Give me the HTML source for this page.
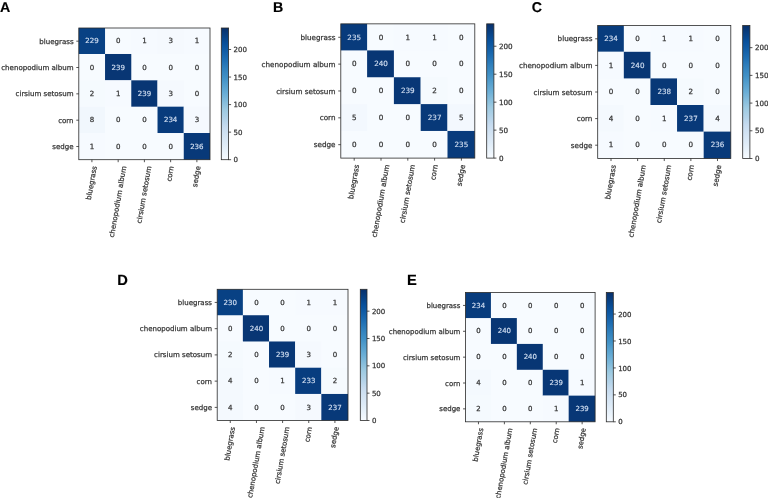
<!DOCTYPE html>
<html lang="en">
<head>
<meta charset="utf-8">
<title>Confusion matrices A-E</title>
<style>
html,body{margin:0;padding:0;background:#ffffff;}
body{width:768px;height:498px;overflow:hidden;}
svg{display:block;}
svg text{text-rendering:geometricPrecision;font-family:"DejaVu Sans","Liberation Sans",sans-serif;fill:#363636;stroke:#363636;stroke-width:0.25px;}
svg .pl{font-family:"Liberation Sans",Arial,Helvetica,sans-serif;font-weight:bold;fill:#000000;stroke:#000000;stroke-width:0.15px;}
svg .ct text{text-anchor:middle;}
svg .ct text.w{fill:#cddbef;stroke:#cddbef;stroke-width:0.2px;}
svg .yt text{text-anchor:end;}
svg .xt text{text-anchor:middle;}
svg .cb text{text-anchor:start;}
svg line{stroke:#2a2a2a;stroke-width:0.8;}
svg .fr{fill:none;stroke:#2a2a2a;stroke-width:0.8;}
</style>
</head>
<body>
<svg width="768" height="498" viewBox="0 0 768 498" font-size="14.2">
<defs>
<linearGradient id="bl" x1="0" y1="0" x2="0" y2="1">
<stop offset="0" stop-color="#08306b"/>
<stop offset="0.06" stop-color="#084082"/>
<stop offset="0.12" stop-color="#08509b"/>
<stop offset="0.19" stop-color="#1460a8"/>
<stop offset="0.25" stop-color="#2070b4"/>
<stop offset="0.31" stop-color="#3181bd"/>
<stop offset="0.38" stop-color="#4191c6"/>
<stop offset="0.44" stop-color="#56a0ce"/>
<stop offset="0.5" stop-color="#6aaed6"/>
<stop offset="0.56" stop-color="#84bcdb"/>
<stop offset="0.62" stop-color="#9dcae1"/>
<stop offset="0.69" stop-color="#b2d2e8"/>
<stop offset="0.75" stop-color="#c6dbef"/>
<stop offset="0.81" stop-color="#d2e3f3"/>
<stop offset="0.88" stop-color="#deebf7"/>
<stop offset="0.94" stop-color="#eaf3fb"/>
<stop offset="1" stop-color="#f7fbff"/>
</linearGradient>
</defs>
<rect x="0" y="0" width="768" height="498" fill="#ffffff"/>
<g class="panel">
<text class="pl" x="0" y="12.2">A</text>
<rect x="78.8" y="28" width="131.2" height="131.7" fill="#f7fbff"/>
<rect x="78.8" y="28" width="26.24" height="25.99" fill="#084184"/>
<rect x="131.28" y="28" width="26.24" height="25.99" fill="#f6faff"/>
<rect x="157.52" y="28" width="26.24" height="25.99" fill="#f5f9fe"/>
<rect x="183.76" y="28" width="26.24" height="25.99" fill="#f6faff"/>
<rect x="105.04" y="53.99" width="26.24" height="26.34" fill="#083674"/>
<rect x="78.8" y="80.33" width="26.24" height="26.34" fill="#f5fafe"/>
<rect x="105.04" y="80.33" width="26.24" height="26.34" fill="#f6faff"/>
<rect x="131.28" y="80.33" width="26.24" height="26.34" fill="#083674"/>
<rect x="157.52" y="80.33" width="26.24" height="26.34" fill="#f5f9fe"/>
<rect x="78.8" y="106.67" width="26.24" height="26.34" fill="#f1f7fd"/>
<rect x="157.52" y="106.67" width="26.24" height="26.34" fill="#083b7c"/>
<rect x="183.76" y="106.67" width="26.24" height="26.34" fill="#f5f9fe"/>
<rect x="78.8" y="133.01" width="26.24" height="26.69" fill="#f6faff"/>
<rect x="183.76" y="133.01" width="26.24" height="26.69" fill="#083979"/>
<rect class="fr" x="78.8" y="28" width="131.2" height="131.7"/>
<g class="ct" font-size="7.06">
<text x="91.92" y="43.4" class="w">229</text>
<text x="118.16" y="43.4">0</text>
<text x="144.4" y="43.4">1</text>
<text x="170.64" y="43.4">3</text>
<text x="196.88" y="43.4">1</text>
<text x="91.92" y="69.74">0</text>
<text x="118.16" y="69.74" class="w">239</text>
<text x="144.4" y="69.74">0</text>
<text x="170.64" y="69.74">0</text>
<text x="196.88" y="69.74">0</text>
<text x="91.92" y="96.08">2</text>
<text x="118.16" y="96.08">1</text>
<text x="144.4" y="96.08" class="w">239</text>
<text x="170.64" y="96.08">3</text>
<text x="196.88" y="96.08">0</text>
<text x="91.92" y="122.42">8</text>
<text x="118.16" y="122.42">0</text>
<text x="144.4" y="122.42">0</text>
<text x="170.64" y="122.42" class="w">234</text>
<text x="196.88" y="122.42">3</text>
<text x="91.92" y="148.76">1</text>
<text x="118.16" y="148.76">0</text>
<text x="144.4" y="148.76">0</text>
<text x="170.64" y="148.76">0</text>
<text x="196.88" y="148.76" class="w">236</text>
</g>
<g class="yt" font-size="7.06">
<line x1="76.3" y1="41.17" x2="78.8" y2="41.17"/>
<text x="73.59" y="43.75">bluegrass</text>
<line x1="76.3" y1="67.51" x2="78.8" y2="67.51"/>
<text x="73.59" y="70.09">chenopodium album</text>
<line x1="76.3" y1="93.85" x2="78.8" y2="93.85"/>
<text x="73.59" y="96.43">cirsium setosum</text>
<line x1="76.3" y1="120.19" x2="78.8" y2="120.19"/>
<text x="73.59" y="122.77">corn</text>
<line x1="76.3" y1="146.53" x2="78.8" y2="146.53"/>
<text x="73.59" y="149.11">sedge</text>
</g>
<g class="xt" font-size="7.06">
<line x1="91.92" y1="159.7" x2="91.92" y2="162.2"/>
<text transform="translate(91.72 183.02) rotate(-80)" x="0" y="2.12">bluegrass</text>
<line x1="118.16" y1="159.7" x2="118.16" y2="162.2"/>
<text transform="translate(117.96 201.8) rotate(-80)" x="0" y="2.12">chenopodium album</text>
<line x1="144.4" y1="159.7" x2="144.4" y2="162.2"/>
<text transform="translate(144.2 194.74) rotate(-80)" x="0" y="2.12">cirsium setosum</text>
<line x1="170.64" y1="159.7" x2="170.64" y2="162.2"/>
<text transform="translate(170.44 173.73) rotate(-80)" x="0" y="2.12">corn</text>
<line x1="196.88" y1="159.7" x2="196.88" y2="162.2"/>
<text transform="translate(196.68 176.62) rotate(-80)" x="0" y="2.12">sedge</text>
</g>
<rect x="221.3" y="28" width="7.3" height="131.7" fill="url(#bl)"/>
<rect class="fr" x="221.3" y="28" width="7.3" height="131.7"/>
<g class="cb" font-size="7.06">
<line x1="228.6" y1="159.7" x2="231.1" y2="159.7"/>
<text x="233.51" y="162.33">0</text>
<line x1="228.6" y1="132.15" x2="231.1" y2="132.15"/>
<text x="233.51" y="134.77">50</text>
<line x1="228.6" y1="104.6" x2="231.1" y2="104.6"/>
<text x="233.51" y="107.22">100</text>
<line x1="228.6" y1="77.04" x2="231.1" y2="77.04"/>
<text x="233.51" y="79.67">150</text>
<line x1="228.6" y1="49.49" x2="231.1" y2="49.49"/>
<text x="233.51" y="52.12">200</text>
</g>
</g>
<g class="panel">
<text class="pl" x="273" y="12.3">B</text>
<rect x="340.8" y="23.85" width="134" height="134.25" fill="#f7fbff"/>
<rect x="340.8" y="23.85" width="26.3" height="26.55" fill="#083b7c"/>
<rect x="393.9" y="23.85" width="26.8" height="26.55" fill="#f6faff"/>
<rect x="420.7" y="23.85" width="26.8" height="26.55" fill="#f6faff"/>
<rect x="367.1" y="50.4" width="26.8" height="26.85" fill="#083674"/>
<rect x="393.9" y="77.25" width="26.8" height="26.85" fill="#083776"/>
<rect x="420.7" y="77.25" width="26.8" height="26.85" fill="#f5fafe"/>
<rect x="340.8" y="104.1" width="26.3" height="26.85" fill="#f3f8fe"/>
<rect x="420.7" y="104.1" width="26.8" height="26.85" fill="#083979"/>
<rect x="447.5" y="104.1" width="27.3" height="26.85" fill="#f3f8fe"/>
<rect x="447.5" y="130.95" width="27.3" height="27.15" fill="#083b7c"/>
<rect class="fr" x="340.8" y="23.85" width="134" height="134.25"/>
<g class="ct" font-size="7.21">
<text x="354.2" y="39.56" class="w">235</text>
<text x="381" y="39.56">0</text>
<text x="407.8" y="39.56">1</text>
<text x="434.6" y="39.56">1</text>
<text x="461.4" y="39.56">0</text>
<text x="354.2" y="66.41">0</text>
<text x="381" y="66.41" class="w">240</text>
<text x="407.8" y="66.41">0</text>
<text x="434.6" y="66.41">0</text>
<text x="461.4" y="66.41">0</text>
<text x="354.2" y="93.26">0</text>
<text x="381" y="93.26">0</text>
<text x="407.8" y="93.26" class="w">239</text>
<text x="434.6" y="93.26">2</text>
<text x="461.4" y="93.26">0</text>
<text x="354.2" y="120.11">5</text>
<text x="381" y="120.11">0</text>
<text x="407.8" y="120.11">0</text>
<text x="434.6" y="120.11" class="w">237</text>
<text x="461.4" y="120.11">5</text>
<text x="354.2" y="146.96">0</text>
<text x="381" y="146.96">0</text>
<text x="407.8" y="146.96">0</text>
<text x="434.6" y="146.96">0</text>
<text x="461.4" y="146.96" class="w">235</text>
</g>
<g class="yt" font-size="7.21">
<line x1="338.24" y1="37.28" x2="340.8" y2="37.28"/>
<text x="335.48" y="39.91">bluegrass</text>
<line x1="338.24" y1="64.12" x2="340.8" y2="64.12"/>
<text x="335.48" y="66.76">chenopodium album</text>
<line x1="338.24" y1="90.97" x2="340.8" y2="90.97"/>
<text x="335.48" y="93.61">cirsium setosum</text>
<line x1="338.24" y1="117.83" x2="340.8" y2="117.83"/>
<text x="335.48" y="120.46">corn</text>
<line x1="338.24" y1="144.68" x2="340.8" y2="144.68"/>
<text x="335.48" y="147.31">sedge</text>
</g>
<g class="xt" font-size="7.21">
<line x1="354.2" y1="158.1" x2="354.2" y2="160.66"/>
<text transform="translate(354 181.9) rotate(-80)" x="0" y="2.16">bluegrass</text>
<line x1="381" y1="158.1" x2="381" y2="160.66"/>
<text transform="translate(380.8 201.08) rotate(-80)" x="0" y="2.16">chenopodium album</text>
<line x1="407.8" y1="158.1" x2="407.8" y2="160.66"/>
<text transform="translate(407.6 193.87) rotate(-80)" x="0" y="2.16">cirsium setosum</text>
<line x1="434.6" y1="158.1" x2="434.6" y2="160.66"/>
<text transform="translate(434.4 172.41) rotate(-80)" x="0" y="2.16">corn</text>
<line x1="461.4" y1="158.1" x2="461.4" y2="160.66"/>
<text transform="translate(461.2 175.37) rotate(-80)" x="0" y="2.16">sedge</text>
</g>
<rect x="486.7" y="23.85" width="7.2" height="134.25" fill="url(#bl)"/>
<rect class="fr" x="486.7" y="23.85" width="7.2" height="134.25"/>
<g class="cb" font-size="7.21">
<line x1="493.9" y1="158.1" x2="496.46" y2="158.1"/>
<text x="498.91" y="160.78">0</text>
<line x1="493.9" y1="130.13" x2="496.46" y2="130.13"/>
<text x="498.91" y="132.81">50</text>
<line x1="493.9" y1="102.16" x2="496.46" y2="102.16"/>
<text x="498.91" y="104.84">100</text>
<line x1="493.9" y1="74.19" x2="496.46" y2="74.19"/>
<text x="498.91" y="76.88">150</text>
<line x1="493.9" y1="46.22" x2="496.46" y2="46.22"/>
<text x="498.91" y="48.91">200</text>
</g>
</g>
<g class="panel">
<text class="pl" x="531.8" y="12.3">C</text>
<rect x="597.7" y="25.5" width="133.1" height="133" fill="#f7fbff"/>
<rect x="597.7" y="25.5" width="26.12" height="26.3" fill="#083c7d"/>
<rect x="650.44" y="25.5" width="26.62" height="26.3" fill="#f6faff"/>
<rect x="677.06" y="25.5" width="26.62" height="26.3" fill="#f6faff"/>
<rect x="597.7" y="51.8" width="26.12" height="26.6" fill="#f6faff"/>
<rect x="623.82" y="51.8" width="26.62" height="26.6" fill="#083674"/>
<rect x="650.44" y="78.4" width="26.62" height="26.6" fill="#083877"/>
<rect x="677.06" y="78.4" width="26.62" height="26.6" fill="#f5fafe"/>
<rect x="597.7" y="105" width="26.12" height="26.6" fill="#f4f9fe"/>
<rect x="650.44" y="105" width="26.62" height="26.6" fill="#f6faff"/>
<rect x="677.06" y="105" width="26.62" height="26.6" fill="#083979"/>
<rect x="703.68" y="105" width="27.12" height="26.6" fill="#f4f9fe"/>
<rect x="597.7" y="131.6" width="26.12" height="26.9" fill="#f6faff"/>
<rect x="703.68" y="131.6" width="27.12" height="26.9" fill="#083a7a"/>
<rect class="fr" x="597.7" y="25.5" width="133.1" height="133"/>
<g class="ct" font-size="7.16">
<text x="611.01" y="41.06" class="w">234</text>
<text x="637.63" y="41.06">0</text>
<text x="664.25" y="41.06">1</text>
<text x="690.87" y="41.06">1</text>
<text x="717.49" y="41.06">0</text>
<text x="611.01" y="67.66">1</text>
<text x="637.63" y="67.66" class="w">240</text>
<text x="664.25" y="67.66">0</text>
<text x="690.87" y="67.66">0</text>
<text x="717.49" y="67.66">0</text>
<text x="611.01" y="94.26">0</text>
<text x="637.63" y="94.26">0</text>
<text x="664.25" y="94.26" class="w">238</text>
<text x="690.87" y="94.26">2</text>
<text x="717.49" y="94.26">0</text>
<text x="611.01" y="120.86">4</text>
<text x="637.63" y="120.86">0</text>
<text x="664.25" y="120.86">1</text>
<text x="690.87" y="120.86" class="w">237</text>
<text x="717.49" y="120.86">4</text>
<text x="611.01" y="147.46">1</text>
<text x="637.63" y="147.46">0</text>
<text x="664.25" y="147.46">0</text>
<text x="690.87" y="147.46">0</text>
<text x="717.49" y="147.46" class="w">236</text>
</g>
<g class="yt" font-size="7.16">
<line x1="595.16" y1="38.8" x2="597.7" y2="38.8"/>
<text x="592.42" y="41.41">bluegrass</text>
<line x1="595.16" y1="65.4" x2="597.7" y2="65.4"/>
<text x="592.42" y="68.01">chenopodium album</text>
<line x1="595.16" y1="92" x2="597.7" y2="92"/>
<text x="592.42" y="94.61">cirsium setosum</text>
<line x1="595.16" y1="118.6" x2="597.7" y2="118.6"/>
<text x="592.42" y="121.21">corn</text>
<line x1="595.16" y1="145.2" x2="597.7" y2="145.2"/>
<text x="592.42" y="147.81">sedge</text>
</g>
<g class="xt" font-size="7.16">
<line x1="611.01" y1="158.5" x2="611.01" y2="161.04"/>
<text transform="translate(610.81 182.15) rotate(-80)" x="0" y="2.15">bluegrass</text>
<line x1="637.63" y1="158.5" x2="637.63" y2="161.04"/>
<text transform="translate(637.43 201.2) rotate(-80)" x="0" y="2.15">chenopodium album</text>
<line x1="664.25" y1="158.5" x2="664.25" y2="161.04"/>
<text transform="translate(664.05 194.04) rotate(-80)" x="0" y="2.15">cirsium setosum</text>
<line x1="690.87" y1="158.5" x2="690.87" y2="161.04"/>
<text transform="translate(690.67 172.72) rotate(-80)" x="0" y="2.15">corn</text>
<line x1="717.49" y1="158.5" x2="717.49" y2="161.04"/>
<text transform="translate(717.29 175.66) rotate(-80)" x="0" y="2.15">sedge</text>
</g>
<rect x="742.7" y="25.5" width="7.2" height="133" fill="url(#bl)"/>
<rect class="fr" x="742.7" y="25.5" width="7.2" height="133"/>
<g class="cb" font-size="7.16">
<line x1="749.9" y1="158.5" x2="752.44" y2="158.5"/>
<text x="754.88" y="161.16">0</text>
<line x1="749.9" y1="130.79" x2="752.44" y2="130.79"/>
<text x="754.88" y="133.46">50</text>
<line x1="749.9" y1="103.08" x2="752.44" y2="103.08"/>
<text x="754.88" y="105.75">100</text>
<line x1="749.9" y1="75.38" x2="752.44" y2="75.38"/>
<text x="754.88" y="78.04">150</text>
<line x1="749.9" y1="47.67" x2="752.44" y2="47.67"/>
<text x="754.88" y="50.33">200</text>
</g>
</g>
<g class="panel">
<text class="pl" x="117.2" y="285" font-size="14.7">D</text>
<rect x="217.2" y="289.3" width="130.8" height="131.2" fill="#f7fbff"/>
<rect x="217.2" y="289.3" width="25.66" height="25.94" fill="#084184"/>
<rect x="295.18" y="289.3" width="26.16" height="25.94" fill="#f6faff"/>
<rect x="321.34" y="289.3" width="26.66" height="25.94" fill="#f6faff"/>
<rect x="242.86" y="315.24" width="26.16" height="26.24" fill="#083674"/>
<rect x="217.2" y="341.48" width="25.66" height="26.24" fill="#f5fafe"/>
<rect x="269.02" y="341.48" width="26.16" height="26.24" fill="#083776"/>
<rect x="295.18" y="341.48" width="26.16" height="26.24" fill="#f5f9fe"/>
<rect x="217.2" y="367.72" width="25.66" height="26.24" fill="#f4f9fe"/>
<rect x="269.02" y="367.72" width="26.16" height="26.24" fill="#f6faff"/>
<rect x="295.18" y="367.72" width="26.16" height="26.24" fill="#083d7f"/>
<rect x="321.34" y="367.72" width="26.66" height="26.24" fill="#f5fafe"/>
<rect x="217.2" y="393.96" width="25.66" height="26.54" fill="#f4f9fe"/>
<rect x="295.18" y="393.96" width="26.16" height="26.54" fill="#f5f9fe"/>
<rect x="321.34" y="393.96" width="26.66" height="26.54" fill="#083979"/>
<rect class="fr" x="217.2" y="289.3" width="130.8" height="131.2"/>
<g class="ct" font-size="7.04">
<text x="230.28" y="304.64" class="w">230</text>
<text x="256.44" y="304.64">0</text>
<text x="282.6" y="304.64">0</text>
<text x="308.76" y="304.64">1</text>
<text x="334.92" y="304.64">1</text>
<text x="230.28" y="330.88">0</text>
<text x="256.44" y="330.88" class="w">240</text>
<text x="282.6" y="330.88">0</text>
<text x="308.76" y="330.88">0</text>
<text x="334.92" y="330.88">0</text>
<text x="230.28" y="357.12">2</text>
<text x="256.44" y="357.12">0</text>
<text x="282.6" y="357.12" class="w">239</text>
<text x="308.76" y="357.12">3</text>
<text x="334.92" y="357.12">0</text>
<text x="230.28" y="383.36">4</text>
<text x="256.44" y="383.36">0</text>
<text x="282.6" y="383.36">1</text>
<text x="308.76" y="383.36" class="w">233</text>
<text x="334.92" y="383.36">2</text>
<text x="230.28" y="409.6">4</text>
<text x="256.44" y="409.6">0</text>
<text x="282.6" y="409.6">0</text>
<text x="308.76" y="409.6">3</text>
<text x="334.92" y="409.6" class="w">237</text>
</g>
<g class="yt" font-size="7.04">
<line x1="214.7" y1="302.42" x2="217.2" y2="302.42"/>
<text x="212.01" y="304.99">bluegrass</text>
<line x1="214.7" y1="328.66" x2="217.2" y2="328.66"/>
<text x="212.01" y="331.23">chenopodium album</text>
<line x1="214.7" y1="354.9" x2="217.2" y2="354.9"/>
<text x="212.01" y="357.47">cirsium setosum</text>
<line x1="214.7" y1="381.14" x2="217.2" y2="381.14"/>
<text x="212.01" y="383.71">corn</text>
<line x1="214.7" y1="407.38" x2="217.2" y2="407.38"/>
<text x="212.01" y="409.95">sedge</text>
</g>
<g class="xt" font-size="7.04">
<line x1="230.28" y1="420.5" x2="230.28" y2="423"/>
<text transform="translate(230.08 443.75) rotate(-80)" x="0" y="2.11">bluegrass</text>
<line x1="256.44" y1="420.5" x2="256.44" y2="423"/>
<text transform="translate(256.24 462.47) rotate(-80)" x="0" y="2.11">chenopodium album</text>
<line x1="282.6" y1="420.5" x2="282.6" y2="423"/>
<text transform="translate(282.4 455.43) rotate(-80)" x="0" y="2.11">cirsium setosum</text>
<line x1="308.76" y1="420.5" x2="308.76" y2="423"/>
<text transform="translate(308.56 434.49) rotate(-80)" x="0" y="2.11">corn</text>
<line x1="334.92" y1="420.5" x2="334.92" y2="423"/>
<text transform="translate(334.72 437.37) rotate(-80)" x="0" y="2.11">sedge</text>
</g>
<rect x="360.3" y="289.3" width="6.7" height="131.2" fill="url(#bl)"/>
<rect class="fr" x="360.3" y="289.3" width="6.7" height="131.2"/>
<g class="cb" font-size="7.04">
<line x1="367" y1="420.5" x2="369.5" y2="420.5"/>
<text x="371.89" y="423.12">0</text>
<line x1="367" y1="393.17" x2="369.5" y2="393.17"/>
<text x="371.89" y="395.79">50</text>
<line x1="367" y1="365.83" x2="369.5" y2="365.83"/>
<text x="371.89" y="368.45">100</text>
<line x1="367" y1="338.5" x2="369.5" y2="338.5"/>
<text x="371.89" y="341.12">150</text>
<line x1="367" y1="311.17" x2="369.5" y2="311.17"/>
<text x="371.89" y="313.79">200</text>
</g>
</g>
<g class="panel">
<text class="pl" x="407.1" y="285" font-size="14.7">E</text>
<rect x="465.5" y="292.5" width="129.6" height="129.3" fill="#f7fbff"/>
<rect x="465.5" y="292.5" width="25.42" height="25.56" fill="#083c7d"/>
<rect x="490.92" y="318.06" width="25.92" height="25.86" fill="#083674"/>
<rect x="516.84" y="343.92" width="25.92" height="25.86" fill="#083674"/>
<rect x="465.5" y="369.78" width="25.42" height="25.86" fill="#f4f9fe"/>
<rect x="542.76" y="369.78" width="25.92" height="25.86" fill="#083776"/>
<rect x="568.68" y="369.78" width="26.42" height="25.86" fill="#f6faff"/>
<rect x="465.5" y="395.64" width="25.42" height="26.16" fill="#f5fafe"/>
<rect x="542.76" y="395.64" width="25.92" height="26.16" fill="#f6faff"/>
<rect x="568.68" y="395.64" width="26.42" height="26.16" fill="#083776"/>
<rect class="fr" x="465.5" y="292.5" width="129.6" height="129.3"/>
<g class="ct" font-size="6.97">
<text x="478.46" y="307.63" class="w">234</text>
<text x="504.38" y="307.63">0</text>
<text x="530.3" y="307.63">0</text>
<text x="556.22" y="307.63">0</text>
<text x="582.14" y="307.63">0</text>
<text x="478.46" y="333.49">0</text>
<text x="504.38" y="333.49" class="w">240</text>
<text x="530.3" y="333.49">0</text>
<text x="556.22" y="333.49">0</text>
<text x="582.14" y="333.49">0</text>
<text x="478.46" y="359.35">0</text>
<text x="504.38" y="359.35">0</text>
<text x="530.3" y="359.35" class="w">240</text>
<text x="556.22" y="359.35">0</text>
<text x="582.14" y="359.35">0</text>
<text x="478.46" y="385.21">4</text>
<text x="504.38" y="385.21">0</text>
<text x="530.3" y="385.21">0</text>
<text x="556.22" y="385.21" class="w">239</text>
<text x="582.14" y="385.21">1</text>
<text x="478.46" y="411.07">2</text>
<text x="504.38" y="411.07">0</text>
<text x="530.3" y="411.07">0</text>
<text x="556.22" y="411.07">1</text>
<text x="582.14" y="411.07" class="w">239</text>
</g>
<g class="yt" font-size="6.97">
<line x1="463.03" y1="305.43" x2="465.5" y2="305.43"/>
<text x="460.36" y="307.98">bluegrass</text>
<line x1="463.03" y1="331.29" x2="465.5" y2="331.29"/>
<text x="460.36" y="333.84">chenopodium album</text>
<line x1="463.03" y1="357.15" x2="465.5" y2="357.15"/>
<text x="460.36" y="359.7">cirsium setosum</text>
<line x1="463.03" y1="383.01" x2="465.5" y2="383.01"/>
<text x="460.36" y="385.56">corn</text>
<line x1="463.03" y1="408.87" x2="465.5" y2="408.87"/>
<text x="460.36" y="411.42">sedge</text>
</g>
<g class="xt" font-size="6.97">
<line x1="478.46" y1="421.8" x2="478.46" y2="424.27"/>
<text transform="translate(478.26 444.85) rotate(-80)" x="0" y="2.09">bluegrass</text>
<line x1="504.38" y1="421.8" x2="504.38" y2="424.27"/>
<text transform="translate(504.18 463.4) rotate(-80)" x="0" y="2.09">chenopodium album</text>
<line x1="530.3" y1="421.8" x2="530.3" y2="424.27"/>
<text transform="translate(530.1 456.42) rotate(-80)" x="0" y="2.09">cirsium setosum</text>
<line x1="556.22" y1="421.8" x2="556.22" y2="424.27"/>
<text transform="translate(556.02 435.67) rotate(-80)" x="0" y="2.09">corn</text>
<line x1="582.14" y1="421.8" x2="582.14" y2="424.27"/>
<text transform="translate(581.94 438.53) rotate(-80)" x="0" y="2.09">sedge</text>
</g>
<rect x="606.3" y="292.5" width="7" height="129.3" fill="url(#bl)"/>
<rect class="fr" x="606.3" y="292.5" width="7" height="129.3"/>
<g class="cb" font-size="6.97">
<line x1="613.3" y1="421.8" x2="615.77" y2="421.8"/>
<text x="618.15" y="424.4">0</text>
<line x1="613.3" y1="394.86" x2="615.77" y2="394.86"/>
<text x="618.15" y="397.46">50</text>
<line x1="613.3" y1="367.93" x2="615.77" y2="367.93"/>
<text x="618.15" y="370.52">100</text>
<line x1="613.3" y1="340.99" x2="615.77" y2="340.99"/>
<text x="618.15" y="343.58">150</text>
<line x1="613.3" y1="314.05" x2="615.77" y2="314.05"/>
<text x="618.15" y="316.65">200</text>
</g>
</g>
</svg>
</body>
</html>
